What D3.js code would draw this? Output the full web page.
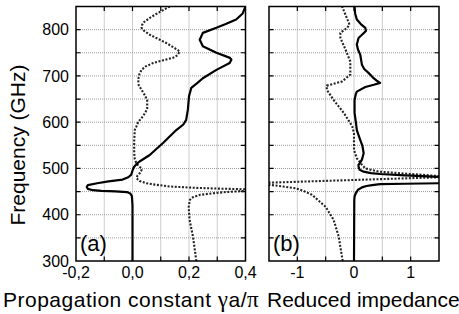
<!DOCTYPE html>
<html>
<head>
<meta charset="utf-8">
<script src="https://cdn.jsdelivr.net/npm/d3@7"></script>
<style>
  body { margin: 0; background: #fff; }
  svg { display: block; }
</style>
</head>
<body>
<div id="chart"></div>
<script>
// frequency (GHz) / value pairs, bottom to top
// (a) propagation constant: solid = real part, dotted = imaginary part
const aSolidFreq = [300, 420, 440, 446, 449, 450.5, 451.5, 453, 456, 460, 464, 468, 472, 476, 481, 486, 495, 502, 510, 515, 529, 555, 583, 595, 605, 627, 656, 674, 685, 695, 713, 728, 735, 739, 750, 764, 778, 793, 804, 812, 822, 835, 850]
const aSolidVal = [0, 0, -0.002, -0.008, -0.02, -0.06, -0.11, -0.14, -0.158, -0.162, -0.158, -0.125, -0.085, -0.035, -0.015, -0.005, 0, 0.004, 0.015, 0.025, 0.061, 0.108, 0.155, 0.18, 0.19, 0.196, 0.2, 0.208, 0.23, 0.249, 0.297, 0.344, 0.35, 0.345, 0.297, 0.249, 0.238, 0.249, 0.297, 0.33, 0.367, 0.39, 0.4]

const aDotFreq = [300, 353, 389, 417, 432, 438, 443, 446, 449, 451.5, 453, 454, 455, 456.5, 458, 461, 465, 468, 473, 479, 485, 490, 496, 500, 505, 511, 520, 533, 560, 583, 591, 600, 609, 620, 630, 648, 660, 670, 680, 692, 703, 713, 720, 728, 734, 739, 745, 753, 758, 771, 789, 798, 804, 810, 815, 825, 836, 850]
const aDotVal = [0.226, 0.214, 0.202, 0.199, 0.203, 0.214, 0.24, 0.28, 0.33, 0.4, 0.5, 0.5, 0.4, 0.3, 0.226, 0.132, 0.08, 0.049, 0.025, 0.014, 0.018, 0.026, 0.032, 0.032, 0.022, 0.014, 0.008, 0.006, 0.006, 0.008, 0.014, 0.02, 0.032, 0.045, 0.052, 0.052, 0.042, 0.032, 0.022, 0.02, 0.024, 0.032, 0.045, 0.073, 0.11, 0.143, 0.16, 0.167, 0.155, 0.12, 0.061, 0.04, 0.032, 0.034, 0.038, 0.06, 0.09, 0.132]

// (b) reduced impedance: solid = real part, dotted = imaginary part
const bSolidFreq = [300, 432, 439, 446, 450, 454, 459, 462, 464, 466, 467, 468, 469, 481, 482, 485, 488, 490, 493, 497, 504, 508, 511, 519, 533, 548, 565, 583, 598, 620, 648, 660, 666, 676, 681, 685, 690, 697, 706, 715, 724, 746, 757, 768, 782, 790, 797, 804, 812, 822, 835, 850]
const bSolidVal = [0, 0.005, 0.01, 0.03, 0.05, 0.07, 0.14, 0.22, 0.32, 0.46, 0.9, 1.5, 2.2, 2.2, 1.5, 0.9, 0.46, 0.3, 0.17, 0.1, 0.08, 0.08, 0.1, 0.14, 0.17, 0.15, 0.1, 0.05, 0.035, 0.01, 0.01, 0.03, 0.05, 0.2, 0.35, 0.46, 0.4, 0.33, 0.26, 0.18, 0.14, 0.11, 0.07, 0.05, 0.08, 0.15, 0.21, 0.2, 0.12, 0.05, 0.02, 0.01]

const bDotFreq = [300, 353, 389, 417, 443, 452, 457, 461, 464, 466, 467.3, 482.9, 483.5, 488, 493, 500, 508, 522, 540, 576, 590, 598, 620, 648, 670, 679, 688, 703, 731, 757, 782, 793, 804, 811, 850]
const bDotVal = [-0.2, -0.27, -0.36, -0.5, -0.74, -0.9, -1.03, -1.25, -1.45, -1.7, -2, 2, 1.5, 1.02, 0.44, 0.2, 0.14, 0.05, 0, 0, -0.03, -0.065, -0.18, -0.36, -0.48, -0.48, -0.21, -0.065, -0.065, -0.15, -0.24, -0.24, -0.12, -0.08, -0.21]

const freqDomain = [300, 850]
const freqTicks = [300, 400, 500, 600, 700, 800]
const aDomain = [-0.2, 0.4]
const aTicks = [-0.2, 0, 0.2, 0.4]
const aTickLabels = ['-0,2', '0,0', '0,2', '0,4']
const bDomain = [-1.5, 1.5]
const bTicks = [-1, 0, 1]
const bTickLabels = ['-1', '0', '1']

const width = 459
const height = 314
const font = "Arial, 'Liberation Sans', sans-serif"

const svg = d3.select('#chart').append('svg')
  .attr('width', width)
  .attr('height', height)

const plotTop = 6.5
const plotBottom = 261

// shared frequency axis
const y = d3.scaleLinear().domain(freqDomain).range([plotBottom, plotTop])

function drawPanel(id, left, right, domain, gridStep, ticks, tickLabels, series, tag) {
  const x = d3.scaleLinear().domain(domain).range([left, right])
  const g = svg.append('g')

  g.append('clipPath').attr('id', 'clip-' + id)
    .append('rect')
    .attr('x', left).attr('y', plotTop)
    .attr('width', right - left).attr('height', plotBottom - plotTop)

  // dotted grid
  const xGrid = d3.range(domain[0] + gridStep, domain[1] - gridStep / 2, gridStep)
  const yGrid = d3.range(freqDomain[0] + 50, freqDomain[1], 50)
  g.selectAll('.vgrid').data(xGrid).enter().append('line')
    .attr('x1', d => x(d)).attr('x2', d => x(d))
    .attr('y1', plotTop).attr('y2', plotBottom)
    .attr('stroke', '#9a9a9a')
    .attr('stroke-width', 1)
    .attr('stroke-dasharray', '1,1')
  g.selectAll('.hgrid').data(yGrid).enter().append('line')
    .attr('x1', left).attr('x2', right)
    .attr('y1', d => y(d)).attr('y2', d => y(d))
    .attr('stroke', '#9a9a9a')
    .attr('stroke-width', 1)
    .attr('stroke-dasharray', '1,1')

  // inward ticks on all four sides
  const tl = 4.5
  g.selectAll('.ytick').data(yGrid).enter().append('path')
    .attr('d', d => 'M' + left + ',' + y(d) + 'h' + tl + 'M' + right + ',' + y(d) + 'h' + (-tl))
    .attr('stroke', '#000').attr('stroke-width', 1.2)
  g.selectAll('.xtick').data(xGrid).enter().append('path')
    .attr('d', d => 'M' + x(d) + ',' + plotBottom + 'v' + (-tl) + 'M' + x(d) + ',' + plotTop + 'v' + tl)
    .attr('stroke', '#000').attr('stroke-width', 1.2)

  const line = d3.line()
    .x(d => x(d[1]))
    .y(d => y(d[0]))

  const plot = g.append('g').attr('clip-path', 'url(#clip-' + id + ')')
  series.forEach(s => {
    plot.append('path')
      .datum(d3.zip(s.freq, s.val))
      .attr('fill', 'none')
      .attr('stroke', s.dotted ? '#222' : '#000')
      .attr('stroke-width', s.dotted ? 2.1 : 2.2)
      .attr('stroke-dasharray', s.dotted ? '2,1.6' : null)
      .attr('stroke-linejoin', 'round')
      .attr('d', line)
  })

  // frame
  g.append('rect')
    .attr('x', left).attr('y', plotTop)
    .attr('width', right - left).attr('height', plotBottom - plotTop)
    .attr('fill', 'none')
    .attr('stroke', '#000')
    .attr('stroke-width', 1.5)

  // x tick labels
  g.selectAll('.xlabel').data(ticks).enter().append('text')
    .attr('x', d => x(d))
    .attr('y', 278)
    .attr('text-anchor', 'middle')
    .attr('font-family', font)
    .attr('font-size', '16px')
    .text((d, i) => tickLabels[i])

  // panel tag
  g.append('text')
    .attr('x', left + 4)
    .attr('y', 251)
    .attr('font-family', font)
    .attr('font-size', '22px')
    .text(tag)

  return x
}

drawPanel('a', 76, 245.5, aDomain, 0.1, aTicks, aTickLabels, [
  { freq: aDotFreq, val: aDotVal, dotted: true },
  { freq: aSolidFreq, val: aSolidVal, dotted: false }
], '(a)')

drawPanel('b', 269, 439, bDomain, 0.5, bTicks, bTickLabels, [
  { freq: bDotFreq, val: bDotVal, dotted: true },
  { freq: bSolidFreq, val: bSolidVal, dotted: false }
], '(b)')

// y tick labels (left panel only)
svg.selectAll('.ylabel').data(freqTicks).enter().append('text')
  .attr('x', 69)
  .attr('y', d => y(d))
  .attr('dy', '0.36em')
  .attr('text-anchor', 'end')
  .attr('font-family', font)
  .attr('font-size', '16px')
  .text(d => d)

// axis titles
svg.append('text')
  .attr('transform', 'translate(25,145) rotate(-90)')
  .attr('text-anchor', 'middle')
  .attr('font-family', font)
  .attr('font-size', '21px')
  .text('Frequency (GHz)')

const xTitle = svg.append('text')
  .attr('x', 3)
  .attr('y', 306.5)
  .attr('font-family', font)
  .attr('font-size', '21px')
  .attr('letter-spacing', '0.5px')
xTitle.append('tspan').text('Propagation constant ')
xTitle.append('tspan').attr('font-family', "'Liberation Serif', serif").attr('font-size', '23px').text('γ')
xTitle.append('tspan').text('a/')
xTitle.append('tspan').attr('font-family', "'Liberation Serif', serif").attr('font-size', '23px').text('π')

svg.append('text')
  .attr('x', 267)
  .attr('y', 306.5)
  .attr('font-family', font)
  .attr('font-size', '21px')
  .text('Reduced impedance')
</script>
</body>
</html>
